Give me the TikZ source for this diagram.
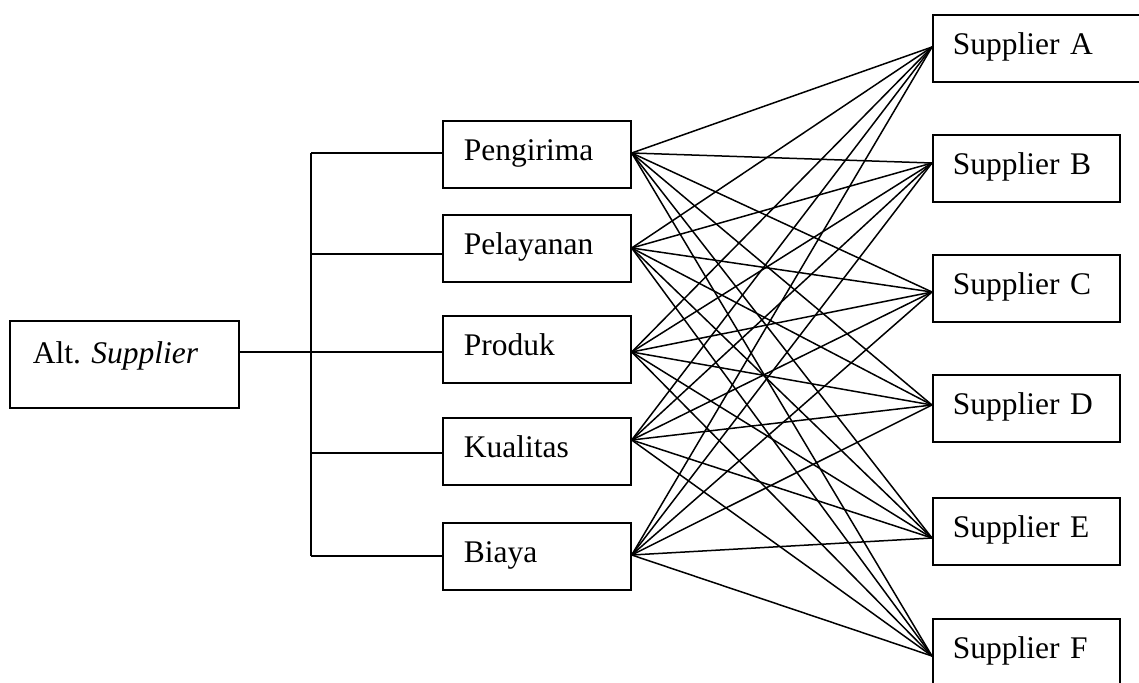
\documentclass[tikz,border=0pt]{standalone}
\usepackage{fontspec}
\setmainfont{Liberation Serif}
\usetikzlibrary{calc}
\begin{document}
\begin{tikzpicture}[x=1pt,y=-1pt,
  box/.style={draw,line width=1.7pt,rectangle,anchor=north west,inner xsep=21pt,inner ysep=0pt,
    text height=40pt,text depth=27pt,align=left,font=\fontsize{31.5}{36}\selectfont},
  midbox/.style={box,text width=146pt},
  supbox/.style={box,text width=147pt,inner xsep=20pt},
  conn/.style={line width=1.5pt}]
\useasboundingbox[fill=white] (0,0) rectangle (1139,682);
\clip (0,0) rectangle (1139,682);
% nodes
\node[box,text width=183pt,inner xsep=23pt,text height=43pt,text depth=44pt] (alt) at (9,320) {Alt.\ \textit{Supplier}};
\node[midbox] (peng) at (442,120) {Pengirima};
\node[midbox] (pel) at (442,214) {Pelayanan};
\node[midbox] (prod) at (442,315) {Produk};
\node[midbox] (kual) at (442,417) {Kualitas};
\node[midbox] (biaya) at (442,522) {Biaya};
\node[supbox,text width=200pt] (sA) at (932,14) {Supplier A};
\node[supbox] (sB) at (932,134) {Supplier B};
\node[supbox] (sC) at (932,254) {Supplier C};
\node[supbox] (sD) at (932,374) {Supplier D};
\node[supbox] (sE) at (932,497) {Supplier E};
\node[supbox] (sF) at (932,618) {Supplier F};
% connection points
\coordinate (altR) at ($(alt.north east)+(0,32)$);
\coordinate (pengL) at ($(peng.north west)+(0,33)$);
\coordinate (pelL) at ($(pel.north west)+(0,40)$);
\coordinate (prodL) at ($(prod.north west)+(0,37)$);
\coordinate (kualL) at ($(kual.north west)+(0,36)$);
\coordinate (biayaL) at ($(biaya.north west)+(0,34)$);
\coordinate (pengR) at ($(peng.north east)+(0,33)$);
\coordinate (pelR) at ($(pel.north east)+(0,34)$);
\coordinate (prodR) at ($(prod.north east)+(0,37)$);
\coordinate (kualR) at ($(kual.north east)+(0,23)$);
\coordinate (biayaR) at ($(biaya.north east)+(0,33)$);
\coordinate (pA) at ($(sA.north west)+(0,33)$);
\coordinate (pB) at ($(sB.north west)+(0,29)$);
\coordinate (pC) at ($(sC.north west)+(0,38)$);
\coordinate (pD) at ($(sD.north west)+(0,31)$);
\coordinate (pE) at ($(sE.north west)+(0,41)$);
\coordinate (pF) at ($(sF.north west)+(0,38)$);
\coordinate (busT) at (311,153);
\coordinate (busB) at (311,556);
% tree
\draw[conn] (busT |- pengL) -- (busB |- biayaL);
\draw[conn] (altR) -- (prodL);
\draw[conn] (busT |- pengL) -- (pengL);
\draw[conn] (busT |- pelL) -- (pelL);
\draw[conn] (busT |- kualL) -- (kualL);
\draw[conn] (busT |- biayaL) -- (biayaL);
% fans
\foreach \m in {pengR,pelR,prodR,kualR,biayaR}
  \foreach \s in {pA,pB,pC,pD,pE,pF}
    \draw[conn] (\m) -- (\s);
\end{tikzpicture}
\end{document}
